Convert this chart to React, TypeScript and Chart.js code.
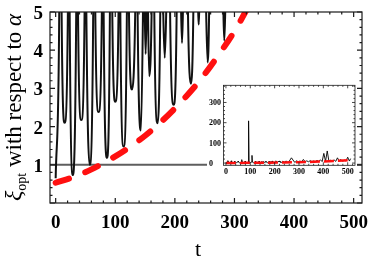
import React, { useEffect, useRef } from "react";
import { Chart, registerables } from "chart.js";

Chart.register(...registerables);

// ---- data ----
const xiTimes = [
  0, 6, 8,
  10, 15, 20.5, 22,
  23.5, 29, 34.5, 36,
  37.5, 43, 48.5, 50,
  51.5, 57, 63, 65,
  66.5, 72, 77.5, 79,
  80.5, 86, 91, 93,
  95, 100, 105.5, 107,
  108.5, 114, 119.5, 121,
  123, 128, 133.5, 136,
  137.5, 143, 146.5, 148,
  149.5, 151, 152.5, 154,
  155, 157, 161, 164,
  165.5, 171, 175.5, 177,
  180.5, 183, 185.5, 190,
  192, 198, 203, 205,
  210.5, 212, 213.5, 219,
  222, 227, 231, 233,
  239.2, 240, 240.8, 247,
  252.5, 255, 257.5, 269,
  281.5, 283, 284.5, 290,
  297, 304, 311, 318, 325, 332, 339, 346, 353, 360, 367, 374, 381, 388, 395, 402,
  409, 416, 423, 430, 437, 444, 451, 458, 465, 472, 479, 486, 493, 500, 507, 512,
];
const xiValues = [
  0.65, 5, 12,
  5, 2.1, 5, 11,
  5, 0.73, 5, 10,
  5, 2.17, 5, 9,
  5, 1.0, 5, 17,
  5, 2.38, 5, 10,
  5, 1.18, 5, 209,
  5, 2.65, 5, 38,
  5, 1.48, 5, 10,
  5, 2.97, 5, 9,
  5, 1.9, 5, 8,
  5, 3.9, 5, 7,
  5, 3.32, 5, 10,
  5, 2.09, 5, 9,
  5, 3.8, 5, 10,
  5, 2.57, 5, 11,
  5, 4.19, 5, 10,
  5, 3.12, 5, 9,
  5, 4.67, 5, 10,
  5, 3.68, 5, 26,
  5, 4.25, 5, 11,
  6.5, 10, 6, 18, 7, 11, 6.5, 12, 7.5, 10, 7, 13, 8, 16, 7.5, 48,
  9, 60, 8, 14, 9, 16, 8.5, 26, 10, 18, 9, 14, 10.5, 29, 10, 22,
];

const boundTimes = [0, 30, 60, 90, 120, 150, 180, 210, 240, 270, 300, 320, 360, 400, 450, 500];
const boundValues = [0.53, 0.68, 0.88, 1.13, 1.42, 1.76, 2.17, 2.64, 3.17, 3.8, 4.5, 5.05, 6.3, 8, 10.5, 13.5];

const thresholdValue = 1;

const mainXRange = [-9.5, 514];
const mainYRange = [0, 5];
const mainXTicks = [0, 100, 200, 300, 400, 500];
const mainYTicks = [1, 2, 3, 4, 5];

const insetXRange = [-10, 530];
const insetYRange = [-11, 385];
const insetXTicks = [0, 100, 200, 300, 400, 500];
const insetYTicks = [0, 100, 200, 300];

const SERIF = '"Liberation Serif", "Times New Roman", serif';

function toPoints(xs: number[], ys: number[]) {
  return xs.map((x, i) => ({ x, y: ys[i] }));
}

function drawFrame(
  chart: any,
  xMajor: number,
  xMinor: number,
  yMajor: number,
  yMinor: number,
  majLen: number,
  minLen: number,
  lw: number
) {
  const { ctx, chartArea: a, scales } = chart;
  const xs = scales.x;
  const ys = scales.y;
  ctx.save();
  ctx.strokeStyle = "#1a1a1a";
  ctx.lineWidth = lw;
  ctx.strokeRect(a.left, a.top, a.right - a.left, a.bottom - a.top);
  ctx.beginPath();
  const xStart = Math.ceil(xs.min / xMinor) * xMinor;
  for (let v = xStart; v <= xs.max; v += xMinor) {
    const px = xs.getPixelForValue(v);
    const isMajor = Math.abs(v / xMajor - Math.round(v / xMajor)) < 1e-6;
    const len = isMajor ? majLen : minLen;
    ctx.moveTo(px, a.bottom);
    ctx.lineTo(px, a.bottom - len);
    ctx.moveTo(px, a.top);
    ctx.lineTo(px, a.top + len);
  }
  const yStart = Math.ceil(ys.min / yMinor) * yMinor;
  for (let v = yStart; v <= ys.max + 1e-9; v += yMinor) {
    const py = ys.getPixelForValue(v);
    const isMajor = Math.abs(v / yMajor - Math.round(v / yMajor)) < 1e-6;
    const len = isMajor ? majLen : minLen;
    ctx.moveTo(a.left, py);
    ctx.lineTo(a.left + len, py);
    ctx.moveTo(a.right, py);
    ctx.lineTo(a.right - len, py);
  }
  ctx.stroke();
  ctx.restore();
}

const mainDecor = {
  id: "mainDecor",
  afterDraw(chart: any) {
    const { ctx, chartArea: a, scales } = chart;
    drawFrame(chart, 100, 20, 1, 0.2, 5, 2.5, 1.2);
    ctx.save();
    ctx.fillStyle = "#000";
    ctx.font = `bold 19px ${SERIF}`;
    ctx.textAlign = "center";
    ctx.textBaseline = "alphabetic";
    for (const v of mainXTicks) {
      ctx.fillText(String(v), scales.x.getPixelForValue(v), a.bottom + 25);
    }
    ctx.textAlign = "right";
    for (const v of mainYTicks) {
      ctx.fillText(String(v), a.left - 7, scales.y.getPixelForValue(v) + 7);
    }
    // x title
    ctx.textAlign = "center";
    ctx.font = `22px ${SERIF}`;
    ctx.fillText("t", 198, 256);
    // y title
    ctx.translate(21, 201);
    ctx.rotate(-Math.PI / 2);
    ctx.textAlign = "left";
    let x = 0;
    ctx.font = `italic 24px ${SERIF}`;
    ctx.fillText("ξ", x, 0);
    x += ctx.measureText("ξ").width;
    ctx.font = `14px ${SERIF}`;
    ctx.fillText("opt", x, 5);
    x += ctx.measureText("opt").width;
    ctx.font = `23px ${SERIF}`;
    const mid = " with respect to ";
    ctx.fillText(mid, x, 0);
    x += ctx.measureText(mid).width;
    ctx.font = `italic 23px ${SERIF}`;
    ctx.fillText("α", x, 0);
    ctx.restore();
  },
};

const insetDecor = {
  id: "insetDecor",
  afterDraw(chart: any) {
    const { ctx, chartArea: a, scales } = chart;
    drawFrame(chart, 100, 20, 100, 20, 3, 1.5, 0.8);
    ctx.save();
    ctx.fillStyle = "#000";
    ctx.font = `bold 8px ${SERIF}`;
    ctx.textAlign = "center";
    ctx.textBaseline = "alphabetic";
    for (const v of insetXTicks) {
      ctx.fillText(String(v), scales.x.getPixelForValue(v), a.bottom + 8.5);
    }
    ctx.textAlign = "left";
    for (const v of insetYTicks) {
      ctx.fillText(String(v), 2, scales.y.getPixelForValue(v) + 2.8);
    }
    ctx.restore();
  },
};

export default function App() {
  const mainRef = useRef<HTMLCanvasElement>(null);
  const insetRef = useRef<HTMLCanvasElement>(null);

  useEffect(() => {
    const xiPoints = toPoints(xiTimes, xiValues);
    const boundPoints = toPoints(boundTimes, boundValues);

    const main = new Chart(mainRef.current as HTMLCanvasElement, {
      type: "line",
      data: {
        datasets: [
          {
            data: boundPoints,
            borderColor: "#ff1010",
            borderWidth: 6,
            borderDash: [14, 17.5],
            borderCapStyle: "round",
            pointRadius: 0,
            cubicInterpolationMode: "monotone",
            fill: false,
          },
          {
            data: xiPoints,
            borderColor: "#111111",
            borderWidth: 2,
            pointRadius: 0,
            cubicInterpolationMode: "monotone",
            fill: false,
          },
          {
            data: [
              { x: mainXRange[0], y: thresholdValue },
              { x: mainXRange[1], y: thresholdValue },
            ],
            borderColor: "#5e5e5e",
            borderWidth: 2,
            pointRadius: 0,
            fill: false,
          },
        ],
      } as any,
      options: {
        animation: false,
        responsive: false,
        devicePixelRatio: 1,
        layout: { padding: { left: 50, right: 12, top: 12, bottom: 59 } },
        plugins: { legend: { display: false }, tooltip: { enabled: false } },
        events: [],
        scales: {
          x: { type: "linear", min: mainXRange[0], max: mainXRange[1], display: false },
          y: { type: "linear", min: mainYRange[0], max: mainYRange[1], display: false },
        },
      } as any,
      plugins: [mainDecor],
    });

    const inset = new Chart(insetRef.current as HTMLCanvasElement, {
      type: "line",
      data: {
        datasets: [
          {
            data: boundPoints,
            borderColor: "#ff1010",
            borderWidth: 2.5,
            borderDash: [10, 4],
            pointRadius: 0,
            cubicInterpolationMode: "monotone",
            fill: false,
          },
          {
            data: xiPoints,
            borderColor: "#000",
            borderWidth: 0.9,
            pointRadius: 0,
            fill: false,
          },
        ],
      } as any,
      options: {
        animation: false,
        responsive: false,
        devicePixelRatio: 1,
        layout: { padding: { left: 16.5, right: 2, top: 5.3, bottom: 12.7 } },
        plugins: { legend: { display: false }, tooltip: { enabled: false } },
        events: [],
        scales: {
          x: { type: "linear", min: insetXRange[0], max: insetXRange[1], display: false },
          y: { type: "linear", min: insetYRange[0], max: insetYRange[1], display: false },
        },
      } as any,
      plugins: [insetDecor],
    });

    return () => {
      main.destroy();
      inset.destroy();
    };
  }, []);

  return (
    <div style={{ position: "fixed", left: 0, top: 0, width: 374, height: 262, background: "#fff" }}>
      <canvas
        ref={mainRef}
        width={374}
        height={262}
        style={{ position: "absolute", left: 0, top: 0, width: 374, height: 262 }}
      />
      <canvas
        ref={insetRef}
        width={150}
        height={98}
        style={{ position: "absolute", left: 207, top: 80, width: 150, height: 98, background: "#fff" }}
      />
    </div>
  );
}
